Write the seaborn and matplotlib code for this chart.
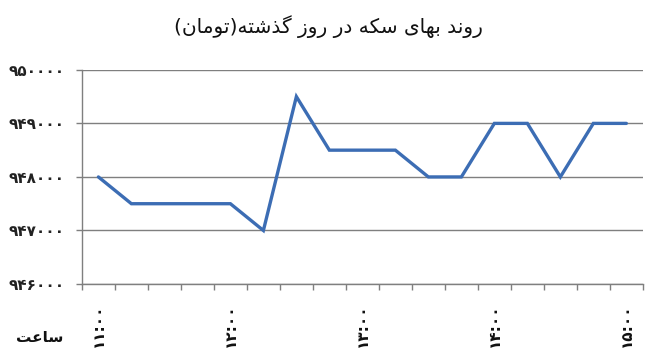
import matplotlib
matplotlib.use("Agg")
import matplotlib.pyplot as plt
import seaborn as sns
import pandas as pd
import numpy as np

# ---- data ----
times = ["۱۱:۰۰", "۱۱:۱۵", "۱۱:۳۰", "۱۱:۴۵", "۱۲:۰۰", "۱۲:۱۵", "۱۲:۳۰", "۱۲:۴۵",
         "۱۳:۰۰", "۱۳:۱۵", "۱۳:۳۰", "۱۳:۴۵", "۱۴:۰۰", "۱۴:۱۵", "۱۴:۳۰", "۱۴:۴۵", "۱۵:۰۰"]
prices = [948000, 947500, 947500, 947500, 947500, 947000, 949500, 948500,
          948500, 948500, 948000, 948000, 949000, 949000, 948000, 949000, 949000]
y_ticks = [946000, 947000, 948000, 949000, 950000]
y_tick_labels = ["۹۴۶۰۰۰", "۹۴۷۰۰۰", "۹۴۸۰۰۰", "۹۴۹۰۰۰", "۹۵۰۰۰۰"]
shown_every = 4
title = "روند بهای سکه در روز گذشته(تومان)"
x_title = "ساعت"

# ---- minimal Persian shaper (matplotlib has no complex text layout) ----
FORMS = {  # isolated, final, initial, medial
    "ا": ("\uFE8D", "\uFE8E", None, None),
    "ب": ("\uFE8F", "\uFE90", "\uFE91", "\uFE92"),
    "ت": ("\uFE95", "\uFE96", "\uFE97", "\uFE98"),
    "د": ("\uFEA9", "\uFEAA", None, None),
    "ذ": ("\uFEAB", "\uFEAC", None, None),
    "ر": ("\uFEAD", "\uFEAE", None, None),
    "ز": ("\uFEAF", "\uFEB0", None, None),
    "س": ("\uFEB1", "\uFEB2", "\uFEB3", "\uFEB4"),
    "ش": ("\uFEB5", "\uFEB6", "\uFEB7", "\uFEB8"),
    "ع": ("\uFEC9", "\uFECA", "\uFECB", "\uFECC"),
    "م": ("\uFEE1", "\uFEE2", "\uFEE3", "\uFEE4"),
    "ن": ("\uFEE5", "\uFEE6", "\uFEE7", "\uFEE8"),
    "ه": ("\uFEE9", "\uFEEA", "\uFEEB", "\uFEEC"),
    "و": ("\uFEED", "\uFEEE", None, None),
    "ک": ("\uFB8E", "\uFB8F", "\uFB90", "\uFB91"),
    "گ": ("\uFB92", "\uFB93", "\uFB94", "\uFB95"),
    "ی": ("\uFBFC", "\uFBFD", "\uFBFE", "\uFBFF"),
}


def shape_rtl(s):
    out = []
    n = len(s)
    for i, ch in enumerate(s):
        if ch not in FORMS:
            out.append(ch)
            continue
        iso, fin, ini, med = FORMS[ch]
        prev = s[i - 1] if i > 0 else None
        nxt = s[i + 1] if i < n - 1 else None
        join_prev = prev in FORMS and FORMS[prev][2] is not None
        join_next = nxt in FORMS and ini is not None
        if join_prev and join_next:
            out.append(med)
        elif join_prev:
            out.append(fin)
        elif join_next:
            out.append(ini)
        else:
            out.append(iso)
    vis = "".join(reversed(out))
    return vis.translate(str.maketrans("()", ")("))


sns.set_theme(style="white")
plt.rcParams["font.family"] = ["DejaVu Sans"]

df = pd.DataFrame({"idx": np.arange(len(times)), "price": prices, "time": times})

fig = plt.figure(figsize=(6.5, 3.6), dpi=100)
ax = fig.add_axes([0.126, 0.211, 0.863, 0.595])

sns.lineplot(data=df, x="idx", y="price", ax=ax, color="#3C6DB4", linewidth=2.4,
             solid_joinstyle="miter", zorder=3)

ax.set_xlim(-0.5, len(times) - 0.5)
ax.set_ylim(y_ticks[0], y_ticks[-1])

# y grid / ticks
ax.set_yticks(y_ticks)
ax.set_yticklabels(y_tick_labels, fontsize=11, fontweight="bold", color="#222222")
ax.yaxis.grid(True, color="#7f7f7f", linewidth=1.0)
ax.xaxis.grid(False)
ax.tick_params(axis="y", which="major", direction="out", length=4.5, width=1,
               color="#7f7f7f", pad=8, left=True)

# x ticks: marks at category boundaries, labels at every 4th category
bounds = np.arange(-0.5, len(times), 1.0)
ax.set_xticks(bounds)
ax.set_xticklabels([])
ax.tick_params(axis="x", which="major", direction="out", length=4.5, width=1,
               color="#7f7f7f", bottom=True)
lab_pos = df["idx"][::shown_every]
ax.set_xticks(lab_pos, minor=True)
ax.set_xticklabels(df["time"][::shown_every], minor=True, rotation=90,
                   fontsize=11, fontweight="bold", color="#111111")
ax.tick_params(axis="x", which="minor", length=0, pad=14)

for side in ["top", "right"]:
    ax.spines[side].set_visible(False)
for side in ["left", "bottom"]:
    ax.spines[side].set_color("#7f7f7f")
    ax.spines[side].set_linewidth(1.0)

ax.set_xlabel("")
ax.set_ylabel("")

fig.text(0.505, 0.925, shape_rtl(title), ha="center", va="center", fontsize=14.5,
         fontweight="normal", color="#111111")
fig.text(0.061, 0.063, shape_rtl(x_title), ha="center", va="center", fontsize=11,
         fontweight="bold", color="#111111")

fig.savefig("out.png", dpi=100, facecolor="white")
